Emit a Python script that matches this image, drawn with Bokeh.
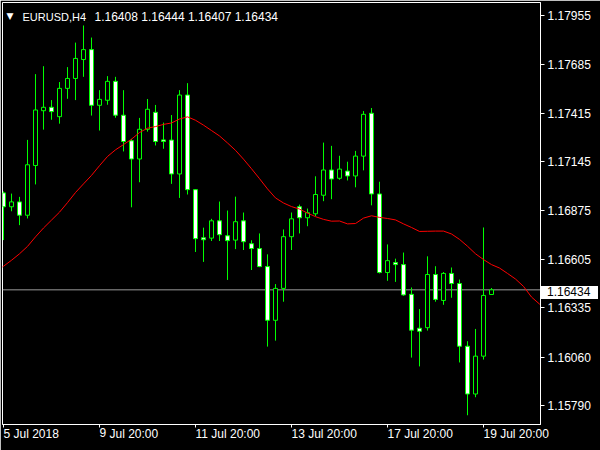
from bokeh.plotting import figure
from bokeh.models import (Range1d, FixedTicker, PrintfTickFormatter, Span, Label,
                          ColumnDataSource, Div)
from bokeh.embed import file_html
from bokeh.resources import INLINE

# ---------------- data ----------------
symbol = "EURUSD,H4"
ohlc_text = "1.16408 1.16444 1.16407 1.16434"

bars = list(range(62))
open_ = [1.16972, 1.16895, 1.16922, 1.16848, 1.17124, 1.17428, 1.17447, 1.17395, 1.17552, 1.17607,
         1.17712, 1.17767, 1.17458, 1.17486, 1.17591, 1.17403, 1.17261, 1.17160, 1.17325, 1.17419,
         1.17266, 1.17265, 1.17077, 1.17515, 1.16990, 1.16723, 1.16721, 1.16817, 1.16734, 1.16710,
         1.16817, 1.16690, 1.16663, 1.16563, 1.16265, 1.16442, 1.16729, 1.16895, 1.16834, 1.16856,
         1.16959, 1.17099, 1.17053, 1.17093, 1.17066, 1.17176, 1.17414, 1.16966, 1.16530, 1.16585,
         1.16574, 1.16409, 1.16221, 1.16224, 1.16519, 1.16375, 1.16525, 1.16469, 1.16121, 1.15856,
         1.16066, 1.16408]
high = [1.16980, 1.16968, 1.16950, 1.17266, 1.17631, 1.17675, 1.17487, 1.17587, 1.17670, 1.17806,
        1.17901, 1.17834, 1.17542, 1.17620, 1.17616, 1.17542, 1.17272, 1.17388, 1.17493, 1.17460,
        1.17362, 1.17404, 1.17542, 1.17581, 1.16992, 1.16779, 1.16828, 1.16924, 1.16874, 1.16951,
        1.16863, 1.16709, 1.16747, 1.16631, 1.16466, 1.16769, 1.16863, 1.16907, 1.16885, 1.17064,
        1.17251, 1.17233, 1.17178, 1.17145, 1.17205, 1.17426, 1.17443, 1.17034, 1.16686, 1.16607,
        1.16641, 1.16447, 1.16327, 1.16620, 1.16565, 1.16533, 1.16558, 1.16491, 1.16149, 1.16217,
        1.16780, 1.16444]
low = [1.16710, 1.16870, 1.16793, 1.16830, 1.17019, 1.17323, 1.17378, 1.17356, 1.17494, 1.17487,
       1.17616, 1.17401, 1.17318, 1.17461, 1.17389, 1.17202, 1.16892, 1.17031, 1.17312, 1.17235,
       1.17217, 1.17022, 1.16944, 1.16963, 1.16644, 1.16589, 1.16705, 1.16705, 1.16489, 1.16660,
       1.16655, 1.16544, 1.16560, 1.16119, 1.16152, 1.16368, 1.16655, 1.16747, 1.16787, 1.16843,
       1.16926, 1.16937, 1.17045, 1.17041, 1.17003, 1.17097, 1.16903, 1.16525, 1.16484, 1.16478,
       1.16401, 1.16058, 1.16009, 1.16208, 1.16368, 1.16351, 1.16390, 1.16031, 1.15738, 1.15838,
       1.16047, 1.16407]
close = [1.16895, 1.16922, 1.16848, 1.17128, 1.17432, 1.17447, 1.17423, 1.17552, 1.17607, 1.17718,
         1.17767, 1.17458, 1.17491, 1.17591, 1.17403, 1.17257, 1.17160, 1.17325, 1.17436, 1.17257,
         1.17257, 1.17077, 1.17515, 1.16990, 1.16718, 1.16712, 1.16817, 1.16740, 1.16707, 1.16812,
         1.16701, 1.16663, 1.16563, 1.16265, 1.16442, 1.16729, 1.16828, 1.16834, 1.16862, 1.16963,
         1.17099, 1.17049, 1.17104, 1.17066, 1.17176, 1.17408, 1.16966, 1.16530, 1.16596, 1.16574,
         1.16406, 1.16210, 1.16204, 1.16519, 1.16381, 1.16525, 1.16469, 1.16121, 1.15856, 1.16066,
         1.16403, 1.16434]

# moving average (shifted forward), bars -1 .. 68
ma_bars = list(range(-1, 69))
ma_values = [1.16532, 1.16565, 1.16598, 1.16634, 1.16675, 1.16728, 1.16777, 1.16821, 1.16865, 1.16918,
             1.16974, 1.17022, 1.17069, 1.17123, 1.17174, 1.17211, 1.17240, 1.17270, 1.17307, 1.17331,
             1.17340, 1.17352, 1.17360, 1.17382, 1.17394, 1.17375, 1.17348, 1.17318, 1.17288, 1.17249,
             1.17208, 1.17159, 1.17106, 1.17051, 1.16994, 1.16944, 1.16916, 1.16896, 1.16882, 1.16860,
             1.16840, 1.16825, 1.16815, 1.16816, 1.16800, 1.16802, 1.16832, 1.16845, 1.16836, 1.16830,
             1.16822, 1.16800, 1.16780, 1.16758, 1.16759, 1.16760, 1.16760, 1.16744, 1.16714, 1.16676,
             1.16634, 1.16602, 1.16574, 1.16555, 1.16525, 1.16494, 1.16453, 1.16394, 1.16355, 1.16316]

last_price = 1.16434
y_ticks = [1.17955, 1.17685, 1.17415, 1.17145, 1.16875, 1.16605, 1.16335, 1.16060, 1.15790]
x_tick_bars = [0, 12, 24, 36, 48, 60]
x_tick_labels = ["5 Jul 2018", "9 Jul 20:00", "11 Jul 20:00", "13 Jul 20:00",
                 "17 Jul 20:00", "19 Jul 20:00"]

# ---------------- layout ----------------
W, H = 600, 450
FL, FT, FR, FB = 2, 2, 540, 426          # frame edges in pixels
X0, X1 = -0.125, 67.125
Y0, Y1 = 1.156867, 1.180285
FONT = "Liberation Sans"
LIME = "#00ff00"


def px_x(px):
    return X0 + (px - FL) * (X1 - X0) / (FR - FL)


def px_y(py):
    return Y1 - (py - FT) * (Y1 - Y0) / (FB - FT)


def y_px(v):
    return FT + (Y1 - v) * (FB - FT) / (Y1 - Y0)


p = figure(width=W, height=H, x_range=Range1d(X0, X1), y_range=Range1d(Y0, Y1),
           output_backend="svg", toolbar_location=None, y_axis_location="right",
           min_border_left=FL, min_border_top=FT, min_border_right=W - FR,
           min_border_bottom=H - FB, background_fill_color="black",
           border_fill_color="black", outline_line_color="white")
p.styles = {"position": "absolute", "left": "0px", "top": "0px"}
p.grid.visible = False

# y axis (right)
ya = p.yaxis[0]
ya.ticker = FixedTicker(ticks=y_ticks, minor_ticks=[])
ya.formatter = PrintfTickFormatter(format="%.5f")
ya.axis_line_color = "white"
ya.major_tick_line_color = "white"
ya.major_tick_out = 4
ya.major_tick_in = 0
ya.minor_tick_line_color = None
ya.major_label_standoff = 3
ya.major_label_text_color = "white"
ya.major_label_text_font = FONT
ya.major_label_text_font_size = "12px"

# x axis: labels start at their tick (tiny negative angle -> left aligned)
xa = p.xaxis[0]
xa.ticker = FixedTicker(ticks=x_tick_bars, minor_ticks=[])
xa.major_label_overrides = dict(zip(x_tick_bars, x_tick_labels))
xa.major_label_orientation = -0.0001
xa.axis_line_color = "white"
xa.major_tick_line_color = "white"
xa.major_tick_out = 3
xa.major_tick_in = 0
xa.minor_tick_line_color = None
xa.major_label_standoff = 6
xa.major_label_text_color = "white"
xa.major_label_text_font = FONT
xa.major_label_text_font_size = "12px"
xa.major_label_text_line_height = 1.0

# price line (behind candles)
p.add_layout(Span(location=last_price, dimension="width", line_color="#9a9a9a",
                  line_width=1, level="underlay"))

# candles
src = ColumnDataSource(dict(
    x=bars, high=high, low=low,
    top=[max(o, c) for o, c in zip(open_, close)],
    bottom=[min(o, c) for o, c in zip(open_, close)],
    fill=["black" if c >= o else "white" for o, c in zip(open_, close)],
))
p.segment(x0="x", y0="high", x1="x", y1="low", source=src, line_color=LIME, line_width=1)
p.vbar(x="x", width=0.5, top="top", bottom="bottom", source=src, fill_color="fill",
       line_color=LIME, line_width=1)

# moving average
p.line(ma_bars, ma_values, line_color="#ff0000", line_width=1)

# title
p.add_layout(Label(x=px_x(6), y=px_y(15.5), text="\u25bc", text_color="white",
                   text_font="DejaVu Sans", text_font_size="9px",
                   text_baseline="alphabetic"))
p.add_layout(Label(x=px_x(22), y=px_y(16.5), text=symbol, text_color="white",
                   text_font=FONT, text_font_size="11px", text_baseline="alphabetic"))
p.add_layout(Label(x=px_x(94), y=px_y(16.5), text=ohlc_text, text_color="white",
                   text_font=FONT, text_font_size="12px", text_baseline="alphabetic"))

# current price tag on the price scale
tag_top = round(y_px(last_price) - 7)
tag = Div(text=('<div style="background:#ffffff;color:#000000;font-family:\'Liberation Sans\';'
                'font-size:12px;width:57px;height:13px;line-height:13px;padding-left:6px;'
                'box-sizing:border-box;white-space:nowrap;">%.5f</div>' % last_price),
          width=57, height=13, margin=0,
          styles={"position": "absolute", "left": "%dpx" % (FR + 1), "top": "%dpx" % tag_top})

open("out.html", "w").write(file_html([p, tag], INLINE))
